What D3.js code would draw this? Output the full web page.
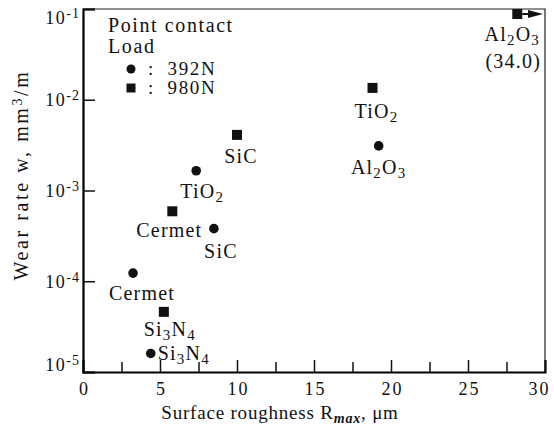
<!DOCTYPE html>
<html lang="en">
<head>
    <meta charset="UTF-8">
    <title>Wear rate vs surface roughness</title>
    <script src="https://cdnjs.cloudflare.com/ajax/libs/d3/7.8.5/d3.min.js"></script>
    <style>
        body { margin: 0; background: #fff; }
        text { font-family: "Liberation Serif", "Times New Roman", serif; fill: #111; }
    </style>
</head>
<body>

<div id="chart"></div>

<script>
    // materials, same order for both loads
    var materials = ["Si3N4", "Cermet", "SiC", "TiO2", "Al2O3"];

    // 392N (circles)
    var rough392 = [4.4, 3.25, 8.5, 7.35, 19.2];
    var wear392 = [1.6e-5, 1.23e-4, 3.8e-4, 1.65e-3, 3.1e-3];

    // 980N (squares); Al2O3 is off scale at 34.0
    var rough980 = [5.25, 5.8, 10.0, 18.8, 28.2];
    var wear980 = [4.6e-5, 5.9e-4, 4.1e-3, 1.35e-2, 0.088];
    var offScaleNote = "(34.0)";

    var xTicks = [0, 5, 10, 15, 20, 25, 30];
    var xMinorTicks = [2.5, 7.5, 12.5, 17.5, 22.5, 27.5];
    var yTicks = [1e-5, 1e-4, 1e-3, 1e-2, 1e-1];
    var legendLabels = ["392N", "980N"];

    var width = 554;
    var height = 429;
    var margin = {left: 83, right: 9, top: 9, bottom: 57};

    var svg = d3.select("#chart")
        .append("svg")
        .attr("width", width)
        .attr("height", height);

    var x = d3.scaleLinear().domain([0, 30]).range([margin.left, width - margin.right]);
    var y = d3.scaleLog().domain([1e-5, 1e-1]).range([height - margin.bottom, margin.top]);

    // label offsets from the marker (dx, dy to baseline)
    var lab392 = [[7, 7, "start"], [9, 27, "middle"], [7, 29, "middle"], [6, 27, "middle"], [0, 28, "middle"]];
    var lab980 = [[6, 24, "middle"], [-3, 26, "middle"], [4, 28, "middle"], [4, 30, "middle"], [-5, 27, "middle"]];

    function chem(sel, name) {
        // split formula into letters and subscript digits
        var parts = name.match(/[A-Za-z]+|\d+/g);
        parts.forEach(function(p) {
            var t = sel.append("tspan").text(p);
            if (/\d/.test(p)) {
                t.attr("baseline-shift", "-28%").attr("font-size", "15px");
            }
        });
    }

    // frame: thin top/right
    svg.append("path")
        .attr("d", "M" + x(0) + "," + y(1e-1) + "H" + x(30) + "V" + y(1e-5))
        .attr("fill", "none")
        .attr("stroke", "#222")
        .attr("stroke-width", 1.2);

    // x axis
    var xAxis = svg.append("g")
        .attr("transform", "translate(0," + y(1e-5) + ")")
        .call(d3.axisBottom(x).tickValues(xTicks).tickSize(-12).tickPadding(10).tickFormat(d3.format("d")));
    svg.append("g")
        .attr("transform", "translate(0," + y(1e-5) + ")")
        .call(d3.axisBottom(x).tickValues(xMinorTicks).tickSize(-10).tickFormat(""))
        .call(function(g) { g.select(".domain").remove(); });

    xAxis.select(".domain").attr("stroke-width", 2);
    svg.selectAll(".tick line").attr("stroke", "#111").attr("stroke-width", 1.5);
    xAxis.selectAll(".tick text")
        .attr("font-size", "18px")
        .attr("letter-spacing", "2px")
        .attr("fill", "#111")
        .attr("dx", function(d) { return d === 30 ? -6 : 1; });

    // y axis
    var yAxis = svg.append("g")
        .attr("transform", "translate(" + x(0) + ",0)")
        .call(d3.axisLeft(y).tickValues(yTicks).tickSize(-12).tickPadding(4).tickFormat(""));
    yAxis.select(".domain").attr("stroke-width", 2.2);
    yAxis.selectAll(".tick line").attr("stroke", "#111").attr("stroke-width", 1.5);

    yAxis.selectAll(".tick")
        .append("text")
        .attr("x", -3)
        .attr("text-anchor", "end")
        .attr("font-size", "18px")
        .attr("dy", function(d) { return d === 1e-1 ? 14 : (d === 1e-5 ? -2 : 6); })
        .each(function(d) {
            var t = d3.select(this);
            t.append("tspan").attr("letter-spacing", "1.5px").text("10");
            t.append("tspan")
                .attr("baseline-shift", "45%")
                .attr("font-size", "14px")
                .attr("letter-spacing", "1px")
                .text("-" + Math.round(-Math.log10(d)));
        });

    // axis titles
    var xt = svg.append("text")
        .attr("x", 280)
        .attr("y", 419)
        .attr("text-anchor", "middle")
        .attr("font-size", "19px")
        .attr("letter-spacing", "0.8px");
    xt.append("tspan").text("Surface roughness R");
    xt.append("tspan").attr("baseline-shift", "-25%").attr("font-size", "14px")
        .attr("font-style", "italic").attr("font-weight", "bold").text("max");
    xt.append("tspan").text(", \u03bcm");

    var yt = svg.append("text")
        .attr("transform", "translate(28,175) rotate(-90)")
        .attr("text-anchor", "middle")
        .attr("font-size", "20px")
        .attr("letter-spacing", "2.6px");
    yt.append("tspan").text("Wear rate w, mm");
    yt.append("tspan").attr("baseline-shift", "45%").attr("font-size", "14px").text("3");
    yt.append("tspan").text("/m");

    // points
    var pts392 = materials.map(function(m, i) { return {name: m, r: rough392[i], w: wear392[i], lab: lab392[i]}; });
    var pts980 = materials.map(function(m, i) { return {name: m, r: rough980[i], w: wear980[i], lab: lab980[i]}; });

    svg.selectAll(".c392")
        .data(pts392)
        .enter()
        .append("circle")
        .attr("class", "c392")
        .attr("cx", function(d) { return x(d.r); })
        .attr("cy", function(d) { return y(d.w); })
        .attr("r", 4.8)
        .attr("fill", "#111");

    svg.selectAll(".s980")
        .data(pts980)
        .enter()
        .append("rect")
        .attr("class", "s980")
        .attr("x", function(d) { return x(d.r) - 5; })
        .attr("y", function(d) { return y(d.w) - 5; })
        .attr("width", 10)
        .attr("height", 10)
        .attr("fill", "#111");

    pts392.concat(pts980).forEach(function(d) {
        var t = svg.append("text")
            .attr("x", x(d.r) + d.lab[0])
            .attr("y", y(d.w) + d.lab[1])
            .attr("text-anchor", d.lab[2])
            .attr("font-size", "20px")
            .attr("letter-spacing", "1.2px");
        chem(t, d.name);
    });

    // off-scale note and arrow for Al2O3 980N
    var last = pts980[pts980.length - 1];
    svg.append("text")
        .attr("x", x(last.r) - 4)
        .attr("y", y(last.w) + 54)
        .attr("text-anchor", "middle")
        .attr("font-size", "20px")
        .attr("letter-spacing", "1.2px")
        .text(offScaleNote);

    var ay = y(last.w);
    var ax0 = x(last.r) + 5;
    var ax1 = x(30) - 2;
    svg.append("line")
        .attr("x1", ax0).attr("x2", ax1 - 8)
        .attr("y1", ay).attr("y2", ay)
        .attr("stroke", "#111").attr("stroke-width", 2);
    svg.append("path")
        .attr("d", "M" + ax1 + "," + ay + "L" + (ax1 - 15) + "," + (ay - 4) + "L" + (ax1 - 15) + "," + (ay + 4) + "Z")
        .attr("fill", "#111");

    // legend
    var leg = svg.append("g");
    leg.append("text").attr("x", 108).attr("y", 32).attr("font-size", "20px")
        .attr("letter-spacing", "1.6px").text("Point contact");
    leg.append("text").attr("x", 108).attr("y", 53).attr("font-size", "20px")
        .attr("letter-spacing", "1.6px").text("Load");

    leg.append("circle").attr("cx", 131).attr("cy", 69).attr("r", 4.5).attr("fill", "#111");
    leg.append("rect").attr("x", 126.5).attr("y", 83.5).attr("width", 9).attr("height", 9).attr("fill", "#111");

    legendLabels.forEach(function(l, i) {
        leg.append("text")
            .attr("x", 148)
            .attr("y", 75 + i * 19)
            .attr("font-size", "19px")
            .attr("letter-spacing", "1.6px")
            .attr("xml:space", "preserve")
            .text(":  " + l);
    });
</script>

</body>
</html>
